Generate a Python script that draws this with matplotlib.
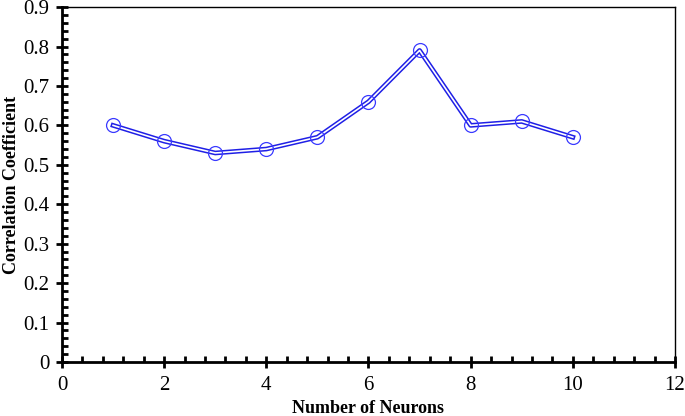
import matplotlib
matplotlib.use("Agg")
import matplotlib.pyplot as plt
from matplotlib.ticker import MultipleLocator, FuncFormatter

# data
neurons = [1, 2, 3, 4, 5, 6, 7, 8, 9, 10]
corr = [0.60, 0.56, 0.53, 0.54, 0.57, 0.66, 0.79, 0.60, 0.61, 0.57]

plt.rcParams['font.family'] = ['Liberation Serif', 'DejaVu Serif']

fig = plt.figure(figsize=(6.85, 4.16), dpi=100)
ax = fig.add_axes([0.0905, 0.1298, 0.8949, 0.8532])

# double line: blue outer, white inner
ax.plot(neurons, corr, color='#1f1fe6', lw=3.4, zorder=3)
ax.plot(neurons, corr, color='white', lw=1.2, zorder=4)
ax.plot(neurons, corr, ls='none', marker='o', ms=10, mfc='none',
        mec='#3a3aff', mew=0.9, zorder=5)

ax.set_xlim(0, 12)
ax.set_ylim(0, 0.9)
ax.xaxis.set_major_locator(MultipleLocator(2))
ax.xaxis.set_minor_locator(MultipleLocator(0.4))
ax.yaxis.set_major_locator(MultipleLocator(0.1))
ax.yaxis.set_minor_locator(MultipleLocator(0.02))
ax.yaxis.set_major_formatter(FuncFormatter(lambda v, p: f"{v:.1f}" if v > 0.001 else "0"))

for side in ['left', 'bottom']:
    ax.spines[side].set_linewidth(2.0)
for side in ['top', 'right']:
    ax.spines[side].set_linewidth(1.0)

ax.tick_params(which='major', direction='inout', length=8, width=2, labelsize=15, pad=5)
ax.tick_params(which='minor', direction='in', length=4, width=2)
ax.tick_params(axis='x', which='major', pad=6)

ax.set_xlabel("Number of Neurons", fontsize=13, fontweight='bold', labelpad=4)
# y label placed by hand so it sits at the left edge like the reference
fig.text(0.0175, 0.556, "Correlation Coefficient", rotation=90, fontsize=13,
         fontweight='bold', ha='center', va='center')

fig.savefig("out.png", dpi=100)
